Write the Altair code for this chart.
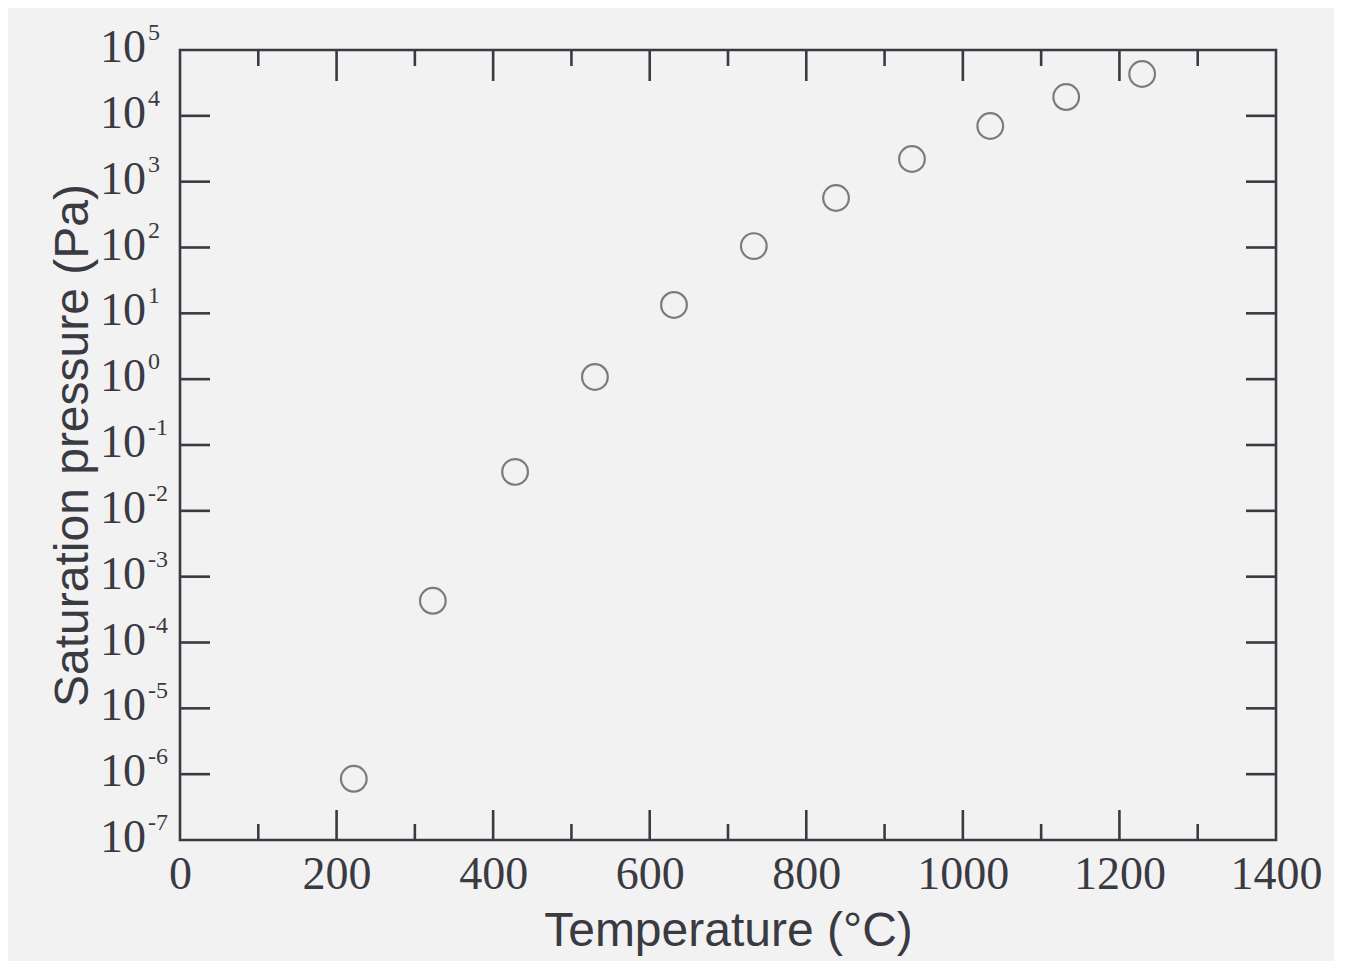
import altair as alt
import pandas as pd

# Data
temperature = [222, 323, 428, 530, 631, 733, 838, 935, 1035, 1132, 1229]
pressure = [8.5e-7, 4.3e-4, 0.039, 1.08, 13.4, 105, 565, 2210, 7010, 19300, 43200]

x_major = [200, 400, 600, 800, 1000, 1200]
x_minor = [100, 300, 500, 700, 900, 1100, 1300]
x_labels = [0, 200, 400, 600, 800, 1000, 1200, 1400]
y_exponents = [-7, -6, -5, -4, -3, -2, -1, 0, 1, 2, 3, 4, 5]
y_ticks_inner = [-6, -5, -4, -3, -2, -1, 0, 1, 2, 3, 4]

W, H = 1096, 790
INK = "#3a3a42"
BG = "#f2f2f2"

pts = pd.DataFrame({"T": temperature, "P": pressure})
xmaj = pd.DataFrame({"T": x_major})
xmin = pd.DataFrame({"T": x_minor})
ylab = pd.DataFrame({
    "P": [10.0 ** e for e in y_exponents],
    "base": ["10"] * len(y_exponents),
    "exp": [str(e) for e in y_exponents],
})
ytk = pd.DataFrame({"P": [10.0 ** e for e in y_ticks_inner]})

xscale = alt.Scale(domain=[0, 1400], nice=False)
yscale = alt.Scale(type="log", domain=[1e-7, 1e5], nice=False)

xenc = alt.X(
    "T:Q",
    scale=xscale,
    axis=alt.Axis(
        values=x_labels,
        format="d",
        ticks=False,
        domain=False,
        grid=False,
        labelFont="Liberation Serif",
        labelFontSize=46,
        labelColor=INK,
        labelPadding=12,
        labelFlush=False,
        title="Temperature (°C)",
        titleFont="Liberation Sans",
        titleFontSize=48,
        titleFontWeight="normal",
        titleColor=INK,
        titlePadding=10,
    ),
)
yenc = alt.Y(
    "P:Q",
    scale=yscale,
    axis=alt.Axis(
        labels=False,
        ticks=False,
        domain=False,
        grid=False,
        title="Saturation pressure (Pa)",
        titleFont="Liberation Sans",
        titleFontSize=48,
        titleFontWeight="normal",
        titleColor=INK,
        titlePadding=83,
    ),
)

points = alt.Chart(pts).mark_point(
    shape="circle", size=660, filled=False, stroke="#4a4a4a", strokeWidth=2.2
).encode(x=xenc, y=yenc)

rule_style = dict(color=INK, strokeWidth=2.6)

xb_major = alt.Chart(xmaj).mark_rule(**rule_style).encode(
    x=alt.X("T:Q", scale=xscale), y=alt.value(H), y2=alt.value(H - 30)
)
xb_minor = alt.Chart(xmin).mark_rule(**rule_style).encode(
    x=alt.X("T:Q", scale=xscale), y=alt.value(H), y2=alt.value(H - 16)
)
xt_major = alt.Chart(xmaj).mark_rule(**rule_style).encode(
    x=alt.X("T:Q", scale=xscale), y=alt.value(0), y2=alt.value(31)
)
xt_minor = alt.Chart(xmin).mark_rule(**rule_style).encode(
    x=alt.X("T:Q", scale=xscale), y=alt.value(0), y2=alt.value(16)
)
yl_ticks = alt.Chart(ytk).mark_rule(**rule_style).encode(
    y=alt.Y("P:Q", scale=yscale), x=alt.value(0), x2=alt.value(30)
)
yr_ticks = alt.Chart(ytk).mark_rule(**rule_style).encode(
    y=alt.Y("P:Q", scale=yscale), x=alt.value(W), x2=alt.value(W - 30)
)

ybase = alt.Chart(ylab).mark_text(
    font="Liberation Serif", fontSize=46, color=INK, align="right", baseline="middle", dy=-2
).encode(y=alt.Y("P:Q", scale=yscale), x=alt.value(-34), text="base:N")
yexp = alt.Chart(ylab).mark_text(
    font="Liberation Serif", fontSize=24, color=INK, align="left", baseline="middle", dy=-17
).encode(y=alt.Y("P:Q", scale=yscale), x=alt.value(-32), text="exp:N")

chart = alt.layer(
    xb_major, xb_minor, xt_major, xt_minor, yl_ticks, yr_ticks, ybase, yexp, points
).properties(
    width=W,
    height=H,
    autosize=alt.AutoSizeParams(type="none"),
    padding={"left": 172, "top": 42, "right": 58, "bottom": 121},
    background=BG,
).configure_view(
    stroke=INK, strokeWidth=2.6, fill=BG
)

chart.save("out.html", embed_options={"renderer": "svg", "actions": False})
